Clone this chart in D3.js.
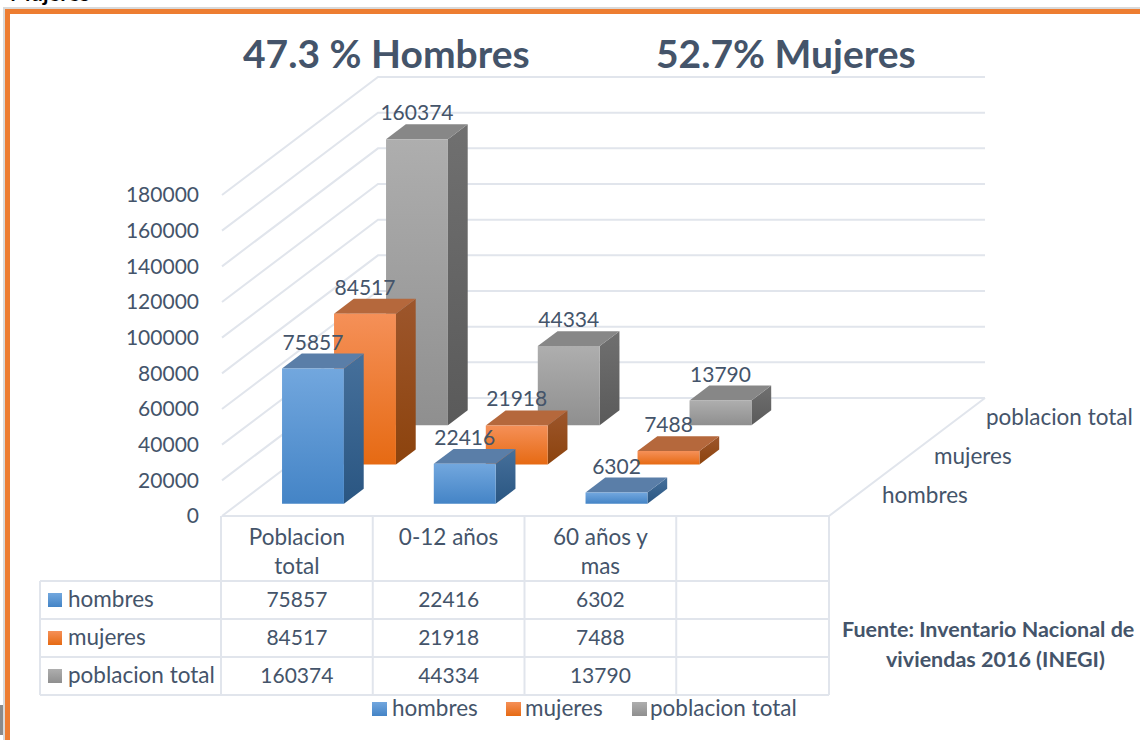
<!DOCTYPE html>
<html><head><meta charset="utf-8">
<script src="https://cdn.jsdelivr.net/npm/d3@7"></script>
<style>html,body{margin:0;padding:0;background:#fff;overflow:hidden}svg{display:block}text{font-family:Lato,"Open Sans",sans-serif}</style>
</head><body><svg id="c" width="1140" height="740"></svg>
<script>
const categories = ["Poblacion total", "0-12 años", "60 años y mas", ""];
const categoryLines = [["Poblacion","total"],["0-12 años"],["60 años y","mas"],[]];
const seriesNames = ["hombres", "mujeres", "poblacion total"];
const hombres = [75857, 22416, 6302];
const mujeres = [84517, 21918, 7488];
const poblacionTotal = [160374, 44334, 13790];
const seriesValues = [hombres, mujeres, poblacionTotal];
const yTicks = [0,20000,40000,60000,80000,100000,120000,140000,160000,180000];
const frontPal = [["#72a7de","#4484c6"],["#f59058","#e66a13"],["#aeaeae","#8f8f8f"]];
const topPal = ["#5a7ea8","#b5683c","#878787"];
const sidePal = [["#46709b","#2a5682"],["#9d562c","#8c430d"],["#707070","#5a5a5a"]];
const textColor = "#44546a", gridColor = "#e1e5ec";
const numSize = 21, wordSize = 22.5;

const svg = d3.select("#c");
const X0=222, X1=829, Y0=516, DX=156, DY=118;
const y = d3.scaleLinear().domain([0,180000]).range([Y0,195]);
const x = d3.scaleBand().domain(categories).range([X0-1,X1-1]).paddingInner(0.592).paddingOuter(0.296);
const z = d3.scaleBand().domain(seriesNames).range([0,1]).paddingInner(0.62).paddingOuter(0.31);
const px = (cx,d)=>cx+d*DX, py=(v,d)=>y(v)-d*DY;

// frame
svg.append("text").attr("x",10).attr("y",1).attr("font-size",22).attr("font-weight",700).attr("fill","#000").text("Mujeres");
svg.append("rect").attr("x",4).attr("y",8).attr("width",1200).attr("height",800).attr("fill","none").attr("stroke","#d9d9d9").attr("stroke-width",2);
svg.append("rect").attr("x",7.5).attr("y",11.5).attr("width",1200).attr("height",800).attr("fill","none").attr("stroke","#ed7d31").attr("stroke-width",5);
svg.append("rect").attr("x",0).attr("y",705).attr("width",3).attr("height",30).attr("fill","#8a8a8a");

// defs
const defs = svg.append("defs");
const grad=(id,c)=>{const g=defs.append("linearGradient").attr("id",id).attr("x1",0).attr("y1",0).attr("x2",0).attr("y2",1);
 g.append("stop").attr("offset",0).attr("stop-color",c[0]);g.append("stop").attr("offset",1).attr("stop-color",c[1]);};
seriesNames.forEach((s,i)=>{grad("f"+i,frontPal[i]);grad("s"+i,sidePal[i]);});

// walls
const grid = svg.append("g").attr("fill","none").attr("stroke",gridColor).attr("stroke-width",2);
yTicks.forEach(t=>{
  grid.append("path").attr("d",d3.line()([[X0,y(t)],[px(X0,1),py(t,1)],[px(X1,1),py(t,1)]]));
});
grid.append("path").attr("d",d3.line()([[X0,Y0],[X1,Y0],[px(X1,1),py(0,1)]]));

// bars, back to front
for(let si=seriesNames.length-1;si>=0;si--){
  const s=seriesNames[si], d0=z(s), d1=d0+z.bandwidth();
  seriesValues[si].forEach((v,ci)=>{
    const l=x(categories[ci]), r=l+x.bandwidth();
    const g=svg.append("g");
    const poly=(pts,fill)=>g.append("polygon").attr("points",pts.map(p=>p.join(",")).join(" ")).attr("fill",fill);
    poly([[px(r,d0),py(v,d0)],[px(r,d1),py(v,d1)],[px(r,d1),py(0,d1)],[px(r,d0),py(0,d0)]],`url(#s${si})`);
    poly([[px(l,d0),py(v,d0)],[px(r,d0),py(v,d0)],[px(r,d1),py(v,d1)],[px(l,d1),py(v,d1)]],topPal[si]);
    poly([[px(l,d0),py(v,d0)],[px(r,d0),py(v,d0)],[px(r,d0),py(0,d0)],[px(l,d0),py(0,d0)]],`url(#f${si})`);
  });
}
// value labels
seriesNames.forEach((s,si)=>{
  const d1=z(s)+z.bandwidth(), d0=z(s);
  seriesValues[si].forEach((v,ci)=>{
    svg.append("text").attr("x",px(x(categories[ci])+x.bandwidth()/2,d0)).attr("y",py(v,d1)-4)
      .attr("text-anchor","middle").attr("font-size",numSize).attr("fill",textColor).text(v);
  });
});

// y axis
const ax=svg.append("g").attr("transform","translate(199,0)").call(d3.axisLeft(y).tickValues(yTicks).tickSize(0).tickPadding(0).tickFormat(d3.format("d")));
ax.select(".domain").remove();
ax.selectAll("text").attr("font-size",numSize).attr("fill",textColor).style("font-family","Lato");

// depth labels
seriesNames.forEach(s=>{
  const d=z(s)+z.bandwidth()/2;
  svg.append("text").attr("x",px(X1,d)+27).attr("y",py(0,d)-1).attr("dy","0.35em").attr("font-size",wordSize).attr("fill",textColor).text(s);
});

// table
const step=x.step(), rowY=[581,619,657,695], colX=categories.map((c,i)=>X0-1+i*step);
const tg=svg.append("g").attr("fill","none").attr("stroke",gridColor).attr("stroke-width",2);
colX.concat([X1]).forEach(cx=>tg.append("path").attr("d",d3.line()([[cx,Y0],[cx,695]])));
rowY.forEach(ry=>tg.append("path").attr("d",d3.line()([[40,ry],[X1,ry]])));
tg.append("path").attr("d",d3.line()([[40,581],[40,695]]));
categoryLines.forEach((ls,i)=>ls.forEach((t,j)=>{
  svg.append("text").attr("x",colX[i]+step/2).attr("y",545+j*29).attr("text-anchor","middle").attr("font-size",wordSize).attr("fill",textColor).text(t);
}));
seriesNames.forEach((s,si)=>{
  const cy=(rowY[si]+rowY[si+1])/2;
  svg.append("rect").attr("x",48).attr("y",cy-7).attr("width",14).attr("height",14).attr("fill",`url(#f${si})`);
  svg.append("text").attr("x",68).attr("y",cy+7).attr("font-size",wordSize).attr("fill",textColor).text(s);
  seriesValues[si].forEach((v,ci)=>svg.append("text").attr("x",colX[ci]+step/2).attr("y",cy+7).attr("text-anchor","middle").attr("font-size",numSize).attr("fill",textColor).text(v));
});

// legend
const legSq=[372,506,632], legTx=[392,525,650];
seriesNames.forEach((s,si)=>{
  svg.append("rect").attr("x",legSq[si]).attr("y",702).attr("width",15).attr("height",14).attr("fill",`url(#f${si})`);
  svg.append("text").attr("x",legTx[si]).attr("y",716).attr("font-size",wordSize).attr("fill",textColor).text(s);
});

// titles
svg.append("text").attr("x",243).attr("y",68).attr("font-size",39).attr("font-weight",700).attr("fill",textColor).text("47.3 % Hombres");
svg.append("text").attr("x",656).attr("y",68).attr("font-size",39).attr("font-weight",700).attr("fill",textColor).text("52.7% Mujeres");
svg.append("text").attr("x",842).attr("y",637).attr("font-size",21.5).attr("font-weight",700).attr("fill",textColor).text("Fuente: Inventario Nacional de");
svg.append("text").attr("x",886).attr("y",667).attr("font-size",21.5).attr("font-weight",700).attr("fill",textColor).text("viviendas 2016 (INEGI)");
</script></body></html>
